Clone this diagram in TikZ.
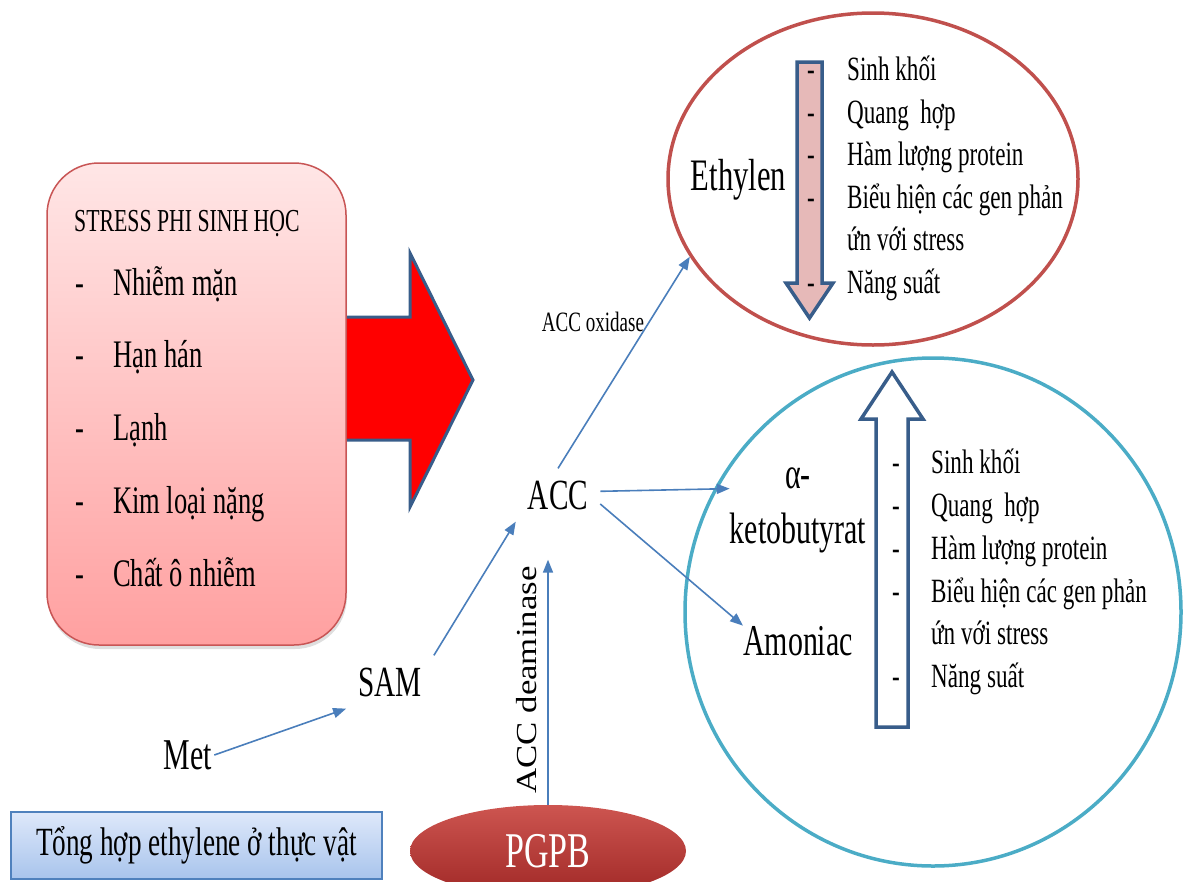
\documentclass[tikz,border=0pt]{standalone}
\usepackage{fontspec}
\setmainfont[FakeStretch=0.68]{Liberation Serif}
\newfontfamily\rotfont[FakeStretch=1.2]{Liberation Serif}
\usetikzlibrary{arrows.meta,shapes.geometric,shadows}
\definecolor{arrblue}{RGB}{74,126,187}
\definecolor{darkblue}{RGB}{56,93,138}
\definecolor{ethred}{RGB}{192,80,77}
\definecolor{ammteal}{RGB}{75,172,198}
\definecolor{stresstop}{RGB}{255,230,230}
\definecolor{stressbot}{RGB}{255,160,160}
\definecolor{stressborder}{RGB}{200,85,85}
\definecolor{pinkfill}{RGB}{230,185,184}
\definecolor{pgpbtop}{RGB}{205,85,80}
\definecolor{pgpbbot}{RGB}{160,40,38}
\definecolor{labtop}{RGB}{222,232,250}
\definecolor{labbot}{RGB}{168,196,236}
\definecolor{labborder}{RGB}{79,129,189}
\newcommand\myfs[2]{\fontsize{#1}{#2}\selectfont}
\begin{document}
\begin{tikzpicture}[x=1pt,y=-1pt,
  conn/.style={draw=arrblue, line width=1.6pt, -{Triangle[length=13pt,width=10pt]}},
  bigarrow/.style={draw=darkblue, line width=3.5pt, line join=miter},
  listtxt/.style={anchor=base west, inner sep=0pt, font=\myfs{34}{40}},
  listdash/.style={anchor=base, inner sep=0pt, font=\myfs{34}{40}},
  stresstxt/.style={anchor=base west, inner sep=0pt, font=\myfs{39}{46}},
  bigtxt/.style={inner sep=0pt, font=\myfs{44}{52}}]
\useasboundingbox (0,0) rectangle (1183,881);

% big red arrow
\draw[fill=red, bigarrow, line width=3pt] (330,317) -- (410,317) -- (410,253) -- (473,380) -- (410,507) -- (410,440) -- (330,440) -- cycle;

% stress box
\node[draw=stressborder, line width=1.5pt, rounded corners=52pt, minimum width=299pt, minimum height=482pt,
  top color=stresstop, bottom color=stressbot,
  drop shadow={opacity=0.25, shadow xshift=1pt, shadow yshift=-4pt}] (stress) at (196.5,404) {};
\node[anchor=base west, inner sep=0pt, font=\myfs{32}{38}] (hdr) at (74,231) {STRESS PHI SINH HỌC};
\foreach \i/\t/\y in {1/Nhiễm mặn/295, 2/Hạn hán/367, 3/Lạnh/440, 4/Kim loại nặng/513, 5/Chất ô nhiễm/586} {
  \node[stresstxt] (sd\i) at (75,\y) {-};
  \node[stresstxt] (si\i) at (113,\y) {\t};
}

% ellipses
\node[draw=ethred, line width=3.5pt, ellipse, minimum width=410pt, minimum height=332pt, inner sep=0pt] (topell) at (873,179) {};
\node[draw=ammteal, line width=3.5pt, ellipse, minimum width=496pt, minimum height=508pt, inner sep=0pt] (botell) at (933,612) {};

% down arrow (top)
\draw[fill=pinkfill, bigarrow] (797,62) -- (822,62) -- (822,283) -- (833,283) -- (809.5,318) -- (786,283) -- (797,283) -- cycle;
% up arrow (bottom)
\draw[fill=white, bigarrow] (876,727) -- (908,727) -- (908,419) -- (923,419) -- (892,372) -- (861,419) -- (876,419) -- cycle;

% top list
\foreach \i/\t/\y in {1/Sinh khối/80, 2/Quang\ \ hợp/123, 3/Hàm\ lượng protein/165, 4/Biểu hiện các gen phản/208, 5/ứn với stress/250, 6/Năng\ suất/293} {
  \node[listtxt] (tl\i) at (847,\y) {\t};
}
\foreach \i/\y in {1/80, 2/123, 3/165, 4/208, 6/293} {
  \node[listdash] (td\i) at (811,\y) {-};
}
% bottom list
\foreach \i/\t/\y in {1/Sinh khối/473, 2/Quang\ \ hợp/516, 3/Hàm\ lượng protein/559, 4/Biểu hiện các gen phản/602, 5/ứn với stress/644, 6/Năng\ suất/687} {
  \node[listtxt] (bl\i) at (931,\y) {\t};
}
\foreach \i/\y in {1/473, 2/516, 3/559, 4/602, 6/687} {
  \node[listdash] (bd\i) at (896,\y) {-};
}

% labels
\node[bigtxt, anchor=base, font=\myfs{45}{52}] (ethylen) at (738.5,190) {Ethylen};
\node[bigtxt, anchor=base] (alpha) at (798,488) {α-};
\node[bigtxt, anchor=base] (keto) at (798,543) {ketobutyrat};
\node[bigtxt, anchor=base] (amon) at (798,655) {Amoniac};

\node[inner sep=12pt, font=\myfs{43}{50}] (acc) at (558,495) {ACC};
\node[inner sep=12pt, font=\myfs{43}{50}] (sam) at (390,682) {SAM};
\node[inner sep=2pt, font=\myfs{44}{50}] (met) at (188,755) {Met};

\node[inner sep=0pt, font=\myfs{28}{32}] (oxid) at (593,322) {ACC oxidase};
\node[inner sep=0pt, rotate=90, font=\rotfont\myfs{29}{32}] (deam) at (527,680) {ACC deaminase};

\node[ellipse, minimum width=276pt, minimum height=92pt, inner sep=0pt, top color=pgpbtop, bottom color=pgpbbot,
  text=white, font=\myfs{50}{56}] (pgpb) at (548,851) {PGPB};

\node[draw=labborder, line width=1.5pt, minimum width=371pt, minimum height=67pt, inner sep=0pt,
  top color=labtop, bottom color=labbot, font=\myfs{40}{46}] (label) at (196.5,845.5) {Tổng hợp ethylene ở thực vật};

% connectors
\draw[conn] (met.east) -- (sam.south west);
\draw[conn] (sam.north east) -- (acc.south west);
\draw[conn] (acc.north) -- (topell.203);
\draw[conn] (acc.5) -- (keto.west |- alpha.south);
\draw[conn] (acc.-12) -- (amon.north west);
\draw[conn, shorten >=38pt] (pgpb.north) -- (pgpb.north |- acc.south);
\end{tikzpicture}
\end{document}
